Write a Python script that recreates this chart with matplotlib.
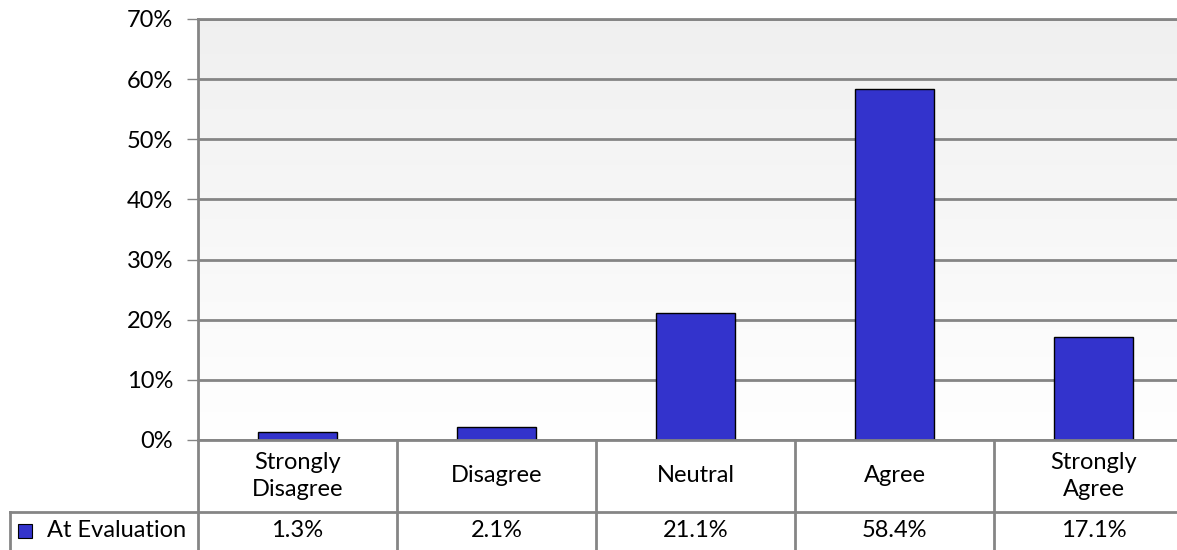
import numpy as np
import matplotlib
matplotlib.use("Agg")
import matplotlib.pyplot as plt
from matplotlib.transforms import blended_transform_factory

categories = ["Strongly\nDisagree", "Disagree", "Neutral", "Agree", "Strongly\nAgree"]
values = [1.3, 2.1, 21.1, 58.4, 17.1]
value_labels = ["1.3%", "2.1%", "21.1%", "58.4%", "17.1%"]
series_name = "At Evaluation"
yticks = [0, 10, 20, 30, 40, 50, 60, 70]

plt.rcParams["font.family"] = ["Lato", "DejaVu Sans"]
fs = 17

W, H = 1177, 550
fig = plt.figure(figsize=(W / 100, H / 100), dpi=100)

left, top, bottom, col_w = 198, 19, 440, 199
ax = fig.add_axes([left / W, (H - bottom) / H, 5 * col_w / W, (bottom - top) / H])

grid_col = "#858585"

# gradient background: light grey at top, white at bottom
grad = np.linspace(0.94, 1.0, 256).reshape(-1, 1)
ax.imshow(np.dstack([grad, grad, grad]), extent=[-0.5, 4.5, 0, 70],
          aspect="auto", zorder=0, origin="upper")
ax.set_xlim(-0.5, 4.5)
ax.set_ylim(0, 70)

for y in yticks:
    ax.axhline(y, color=grid_col, lw=2, zorder=1)

x = np.arange(len(categories))
ax.bar(x, values, width=0.4, color="#3333CC", edgecolor="black", lw=1, zorder=3)

ax.set_yticks(yticks)
ax.set_yticklabels([f"{t}%" for t in yticks], fontsize=fs)
ax.tick_params(axis="y", length=8, width=1, color=grid_col, pad=10)
ax.tick_params(axis="x", length=0, labelbottom=False)
for s in ["right", "bottom"]:
    ax.spines[s].set_visible(False)
ax.spines["left"].set_color(grid_col)
ax.spines["left"].set_linewidth(2)
ax.spines["top"].set_color(grid_col)
ax.spines["top"].set_linewidth(2)

# data table under the axis
tr = blended_transform_factory(ax.transData, ax.transAxes)
ph = bottom - top
row1 = -(512 - bottom) / ph
row2 = -(H + 5 - bottom) / ph
lx = -0.5 - (left - 10) / col_w

ax.plot([-0.5, 4.6], [0, 0], transform=tr, color=grid_col, lw=2, clip_on=False, zorder=4)
ax.plot([lx, 4.6], [row1, row1], transform=tr, color=grid_col, lw=2, clip_on=False)
for b in np.arange(-0.5, 5.0, 1.0):
    ax.plot([b, b], [0, row2], transform=tr, color=grid_col, lw=2, clip_on=False)
ax.plot([lx, lx], [row1, row2], transform=tr, color=grid_col, lw=2, clip_on=False)

for i, c in enumerate(categories):
    ax.text(i, row1 / 2, c, transform=tr, ha="center", va="center",
            fontsize=fs, linespacing=1.3)
    ax.text(i, (row1 + row2) / 2 + 0.006, value_labels[i], transform=tr,
            ha="center", va="center", fontsize=fs)

ax.plot([lx + 15 / col_w], [(row1 + row2) / 2 + 0.006], transform=tr, marker="s",
        ms=9.5, mfc="#3333CC", mec="black", mew=0.8, clip_on=False)
ax.text(lx + 37 / col_w, (row1 + row2) / 2 + 0.006, series_name, transform=tr,
        ha="left", va="center", fontsize=fs)

fig.savefig("out.png", dpi=100)
